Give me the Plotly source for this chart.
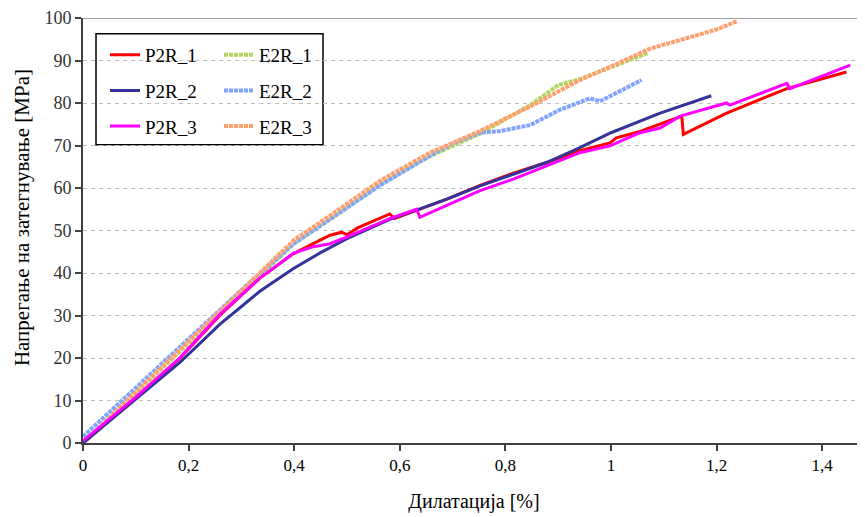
import plotly.graph_objects as go

# ---- data ----
p2r1_x = [0, 0.1, 0.184, 0.259, 0.335, 0.398, 0.45, 0.468, 0.49, 0.5, 0.52, 0.55, 0.581, 0.59, 0.62, 0.689,
          0.752, 0.815, 0.878, 0.941, 0.998, 1.01, 1.055, 1.134, 1.137, 1.219, 1.333, 1.446]
p2r1_y = [0, 10.5, 20.0, 30.0, 38.8, 44.5, 47.8, 48.9, 49.6, 49.0, 50.6, 52.3, 53.9, 52.8, 54.2, 57.4,
          60.6, 63.5, 66.0, 68.8, 70.6, 71.8, 73.3, 76.9, 72.6, 77.6, 83.4, 87.3]

p2r2_x = [0, 0.089, 0.184, 0.259, 0.335, 0.398, 0.45, 0.499, 0.581, 0.638, 0.689, 0.752, 0.815, 0.878,
          0.941, 1.0, 1.093, 1.19]
p2r2_y = [0, 9.3, 19.0, 27.9, 35.7, 41.0, 44.8, 48.0, 52.6, 55.1, 57.4, 60.5, 63.2, 66.0,
          69.5, 73.0, 77.6, 81.7]

p2r3_x = [0, 0.1, 0.184, 0.259, 0.335, 0.398, 0.436, 0.468, 0.5, 0.581, 0.632, 0.638, 0.689, 0.752,
          0.815, 0.878, 0.941, 0.998, 1.055, 1.093, 1.131, 1.219, 1.225, 1.333, 1.339, 1.453]
p2r3_y = [0.5, 10.8, 20.1, 30.2, 38.8, 44.6, 46.2, 46.9, 48.5, 52.8, 55.0, 53.1, 55.9, 59.4,
          62.1, 65.2, 68.3, 69.9, 73.0, 74.1, 76.9, 80.0, 79.5, 84.6, 83.4, 88.9]

e2r1_x = [0, 0.1, 0.2, 0.3, 0.4, 0.468, 0.5625, 0.657, 0.752, 0.847, 0.9, 0.941, 1.0, 1.07]
e2r1_y = [0, 11.7, 23.5, 35.3, 47.0, 52.6, 60.8, 67.5, 72.8, 79.5, 84.2, 85.6, 88.5, 91.8]

e2r2_x = [0, 0.1, 0.2, 0.3, 0.4, 0.5, 0.5625, 0.657, 0.7, 0.752, 0.79, 0.847, 0.903, 0.96, 0.979, 1.058]
e2r2_y = [1.5, 13.0, 24.5, 36.0, 47.0, 55.5, 60.6, 67.6, 70.5, 73.0, 73.4, 74.8, 78.4, 81.1, 80.4, 85.4]

e2r3_x = [0, 0.1, 0.2, 0.3, 0.4, 0.468, 0.5625, 0.657, 0.752, 0.847, 0.941, 1.0, 1.074, 1.15, 1.2, 1.238]
e2r3_y = [0, 12.0, 24.0, 36.0, 47.8, 53.5, 61.7, 68.3, 73.4, 79.2, 85.4, 88.6, 92.8, 95.5, 97.3, 99.2]

x_tickvals = [0, 0.2, 0.4, 0.6, 0.8, 1.0, 1.2, 1.4]
x_ticktext = ["0", "0,2", "0,4", "0,6", "0,8", "1", "1,2", "1,4"]
y_tickvals = [0, 10, 20, 30, 40, 50, 60, 70, 80, 90, 100]
x_title = "Дилатација [%]"
y_title = "Напрегање на затегнување [MPa]"

FONT = "Liberation Serif, Times New Roman, serif"

fig = go.Figure()

e_series = [
    ("E2R_1", e2r1_x, e2r1_y, "#B2D55E", "legend2"),
    ("E2R_2", e2r2_x, e2r2_y, "#7FA3FF", "legend2"),
    ("E2R_3", e2r3_x, e2r3_y, "#FF9F6E", "legend2"),
]
p_series = [
    ("P2R_1", p2r1_x, p2r1_y, "#FF0000", "legend"),
    ("P2R_2", p2r2_x, p2r2_y, "#333399", "legend"),
    ("P2R_3", p2r3_x, p2r3_y, "#FF00FF", "legend"),
]

for name, xs, ys, col, lg in e_series:
    fig.add_trace(go.Scatter(x=xs, y=ys, mode="lines", name=name, legend=lg, legendgroup=name,
                             line=dict(color=col, width=4, dash="4px,1px")))
for name, xs, ys, col, lg in p_series:
    fig.add_trace(go.Scatter(x=xs, y=ys, mode="lines", name=name, legend=lg, legendgroup=name,
                             line=dict(color=col, width=3)))

# the page body adds an 8px offset; size the figure so the plot area lands where the reference has it
OFF = 8
W, H = 865 - OFF, 517 - OFF
L, R, T, B = 83 - OFF, 0, 14 - OFF, 74
pw, ph = W - L - R, H - T - B

def px2x(px):
    return (px - OFF - L) / pw

def py2y(py):
    return (H + OFF - B - py) / ph

legend_common = dict(font=dict(family=FONT, size=19, color="#000000"), bgcolor="rgba(0,0,0,0)",
                     borderwidth=0, tracegroupgap=8, xanchor="left", yanchor="top",
                     itemwidth=30, orientation="v")

fig.update_layout(
    width=W, height=H,
    margin=dict(l=L, r=R, t=T, b=B),
    paper_bgcolor="white", plot_bgcolor="white",
    separators=", ",
    font=dict(family=FONT, color="#000000"),
    legend=dict(x=px2x(105), y=py2y(32), **legend_common),
    legend2=dict(x=px2x(219), y=py2y(32), **legend_common),
    xaxis=dict(
        range=[0, pw / 528.0], tickvals=x_tickvals, ticktext=x_ticktext,
        showgrid=False, zeroline=False, showline=True, linecolor="#404040", linewidth=2,
        ticks="outside", ticklen=6, tickwidth=1.5, tickcolor="#404040",
        tickfont=dict(family=FONT, size=17, color="#000000"),
        title=dict(text=x_title, font=dict(family=FONT, size=20, color="#000000"), standoff=20),
    ),
    yaxis=dict(
        range=[0, 100], tickvals=y_tickvals, ticklabeloverflow="allow",
        showgrid=True, gridcolor="#C0C0C0", griddash="4px,4px", gridwidth=1.2,
        zeroline=False, showline=True, linecolor="#404040", linewidth=2,
        ticks="outside", ticklen=6, tickwidth=1.5, tickcolor="#404040",
        tickfont=dict(family=FONT, size=18, color="#333333"),
    ),
    annotations=[
        dict(text=y_title, textangle=-90, xref="paper", yref="paper",
             x=px2x(22), y=py2y(216), xanchor="center", yanchor="middle", showarrow=False,
             font=dict(family=FONT, size=21, color="#000000")),
    ],
    shapes=[
        dict(type="line", xref="paper", yref="y", x0=0, x1=1, y0=100, y1=100,
             line=dict(color="#A0A0A0", width=2)),
        dict(type="rect", xref="paper", yref="paper", x0=px2x(96), x1=px2x(323), y0=py2y(142), y1=py2y(30),
             line=dict(color="#000000", width=1.5), fillcolor="white", layer="between"),
    ],
)

fig.write_html("out.html")
